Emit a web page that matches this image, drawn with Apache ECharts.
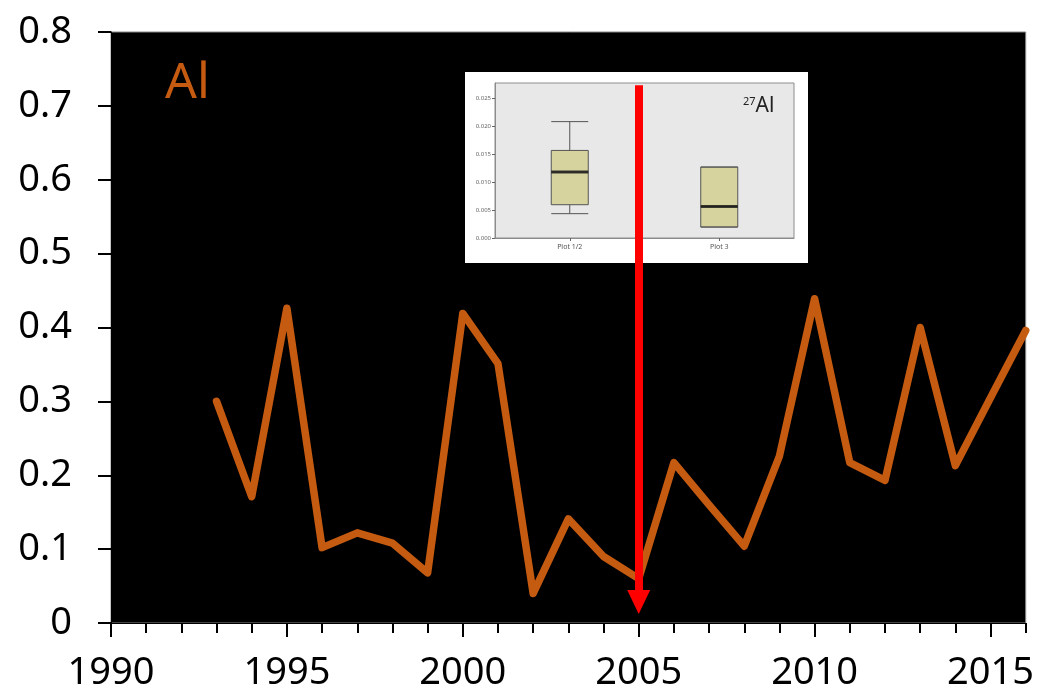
<!DOCTYPE html>
<html>
<head>
<meta charset="utf-8">
<script src="https://cdn.jsdelivr.net/npm/echarts@6/dist/echarts.min.js"></script>
<style>
html,body{margin:0;padding:0;background:#fff;}
#chart{width:1037px;height:698px;}
</style>
</head>
<body>
<div id="chart"></div>
<script>
// ---- main series data ----
const years = [1993,1994,1995,1996,1997,1998,1999,2000,2001,2002,2003,2004,2005,2006,2007,2008,2009,2010,2011,2012,2013,2014,2015,2016];
const alValues = [0.300,0.171,0.426,0.102,0.122,0.108,0.068,0.419,0.351,0.040,0.141,0.090,0.060,0.217,0.160,0.104,0.226,0.439,0.217,0.193,0.400,0.213,0.305,0.396];
const yTicks = [0,0.1,0.2,0.3,0.4,0.5,0.6,0.7,0.8];
const xLabelYears = [1990,1995,2000,2005,2010,2015];
const xMin = 1990, xMax = 2016;

// ---- arrow annotation ----
const arrowYear = 2005;
const arrowFrom = 0.728;
const arrowTo = 0.0285;

// ---- inset box plot data ----
const insetCategories = ['Plot 1/2', 'Plot 3'];
// [min, Q1, median, Q3, max]
const insetBoxes = [
  [0.00435, 0.00595, 0.0118, 0.01565, 0.0208],
  [0.00196, 0.00196, 0.00565, 0.01268, 0.01268]
];
const insetMedians = [0.0118, 0.00565];
const insetTicks = [0, 0.005, 0.010, 0.015, 0.020, 0.025];

const ORANGE = '#C55A11';
const FONT = 'Noto Sans';

const chart = echarts.init(document.getElementById('chart'), null, {renderer: 'canvas'});

const option = {
  animation: false,
  backgroundColor: '#ffffff',
  title: [
    {
      text: 'Al', left: 160, top: 54,
      textStyle: {color: ORANGE, fontSize: 50, fontWeight: 'normal', fontFamily: FONT}
    },
    {
      text: '{s|27}{b|Al}', left: 738, top: 91, z: 10,
      textStyle: {
        fontWeight: 'normal',
        rich: {
          s: {fontSize: 11, color: '#222', fontWeight: 'normal', fontFamily: FONT, verticalAlign: 'top', padding: [0,0,9,0]},
          b: {fontSize: 21, color: '#222', fontWeight: 'normal', fontFamily: FONT}
        }
      }
    }
  ],
  grid: [
    {left: 111, right: 10, top: 32, bottom: 75, show: true, backgroundColor: '#000000', borderColor: '#888', borderWidth: 1, z: 0},
    {left: 465, top: 72, width: 343, height: 191, show: true, backgroundColor: '#ffffff', borderWidth: 0, z: 1},
    {left: 495, top: 83, width: 299, height: 155, show: true, backgroundColor: '#e8e8e8', borderColor: '#8c8c8c', borderWidth: 1, z: 2}
  ],
  xAxis: [
    {
      gridIndex: 0, type: 'value', min: xMin, max: xMax, interval: 1,
      axisLine: {show: true, lineStyle: {color: '#000', width: 1}},
      axisTick: {show: true, length: 10, lineStyle: {color: '#000', width: 2}},
      axisLabel: {show: false},
      splitLine: {show: false}
    },
    {
      gridIndex: 0, type: 'value', min: xMin, max: xMax, position: 'bottom',
      axisLine: {show: false},
      axisTick: {show: true, length: 14, customValues: xLabelYears, lineStyle: {color: '#000', width: 2}},
      axisLabel: {show: true, customValues: xLabelYears, color: '#000', fontSize: 38, fontFamily: FONT, margin: 31, formatter: v => String(v)},
      splitLine: {show: false}
    },
    {
      gridIndex: 2, type: 'category', data: insetCategories, z: 6,
      axisLine: {show: true, lineStyle: {color: '#8c8c8c'}},
      axisTick: {show: true, alignWithLabel: true, length: 3, lineStyle: {color: '#666'}},
      axisLabel: {color: '#555', fontSize: 7, fontFamily: FONT, margin: 5},
      splitLine: {show: false}
    },
    {gridIndex: 1, type: 'value', show: false}
  ],
  yAxis: [
    {
      gridIndex: 0, type: 'value', min: 0, max: 0.8, interval: 0.1,
      axisLine: {show: true, lineStyle: {color: '#000'}},
      axisTick: {show: true, length: 13, lineStyle: {color: '#000', width: 2}},
      axisLabel: {color: '#000', fontSize: 38, fontFamily: FONT, margin: 39,
        formatter: v => (v === 0 ? '0' : v.toFixed(1))},
      splitLine: {show: false}
    },
    {
      gridIndex: 2, type: 'value', min: 0, max: 0.0277, z: 6,
      axisLine: {show: true, lineStyle: {color: '#8c8c8c'}},
      axisTick: {show: true, length: 3, customValues: insetTicks, lineStyle: {color: '#666'}},
      axisLabel: {customValues: insetTicks, color: '#666', fontSize: 6, fontFamily: FONT, margin: 4,
        formatter: v => v.toFixed(3)},
      splitLine: {show: false}
    },
    {gridIndex: 1, type: 'value', show: false}
  ],
  series: [
    {
      type: 'boxplot', xAxisIndex: 2, yAxisIndex: 1,
      data: insetBoxes, boxWidth: [37, 37], z: 3,
      itemStyle: {color: '#d7d39f', borderColor: '#555', borderWidth: 1},
      emphasis: {disabled: true}, silent: true
    },
    {
      type: 'scatter', xAxisIndex: 2, yAxisIndex: 1,
      data: insetMedians.map((m, i) => [i, m]),
      symbol: 'rect', symbolSize: [37, 3], z: 4,
      itemStyle: {color: '#111'}, silent: true
    },
    {
      type: 'line', xAxisIndex: 0, yAxisIndex: 0, z: 10,
      data: years.map((y, i) => [y, alValues[i]]),
      showSymbol: false, symbol: 'none',
      lineStyle: {color: ORANGE, width: 7.5, join: 'round', cap: 'round'},
      silent: true,
      markLine: {
        silent: true, z: 20,
        symbol: ['none', 'triangle'], symbolSize: [23, 24],
        label: {show: false},
        lineStyle: {color: '#ff0000', width: 8, type: 'solid'},
        itemStyle: {color: '#ff0000'},
        emphasis: {disabled: true},
        data: [[{coord: [arrowYear, arrowFrom]}, {coord: [arrowYear, arrowTo]}]]
      }
    }
  ]
};
chart.setOption(option);
</script>
</body>
</html>
